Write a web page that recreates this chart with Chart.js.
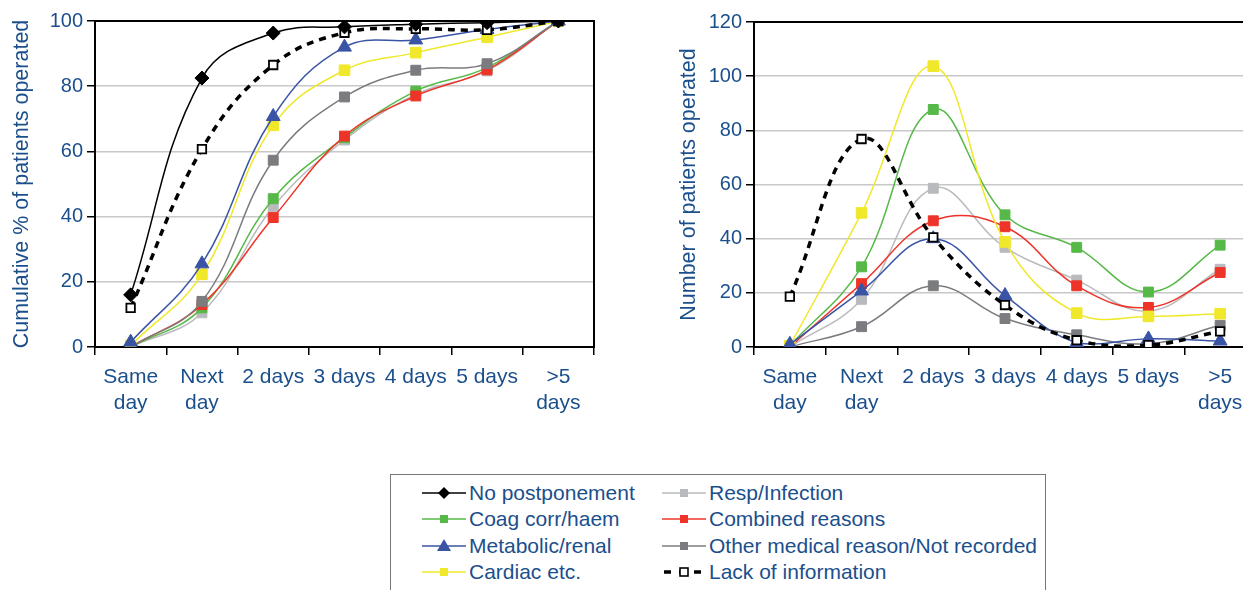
<!DOCTYPE html>
<html>
<head>
<meta charset="utf-8">
<script src="https://cdn.jsdelivr.net/npm/chart.js@4/dist/chart.umd.min.js"></script>
<style>
  body { margin: 0; width: 1243px; height: 590px; overflow: hidden; background: #fff; position: relative;
         font-family: "Liberation Sans", Arial, sans-serif; }
  #left { position: absolute; left: 0; top: 0; }
  #right { position: absolute; left: 662px; top: 0; }
  #legend { position: absolute; left: 390px; top: 474px; width: 656px; height: 130px;
            border: 1.5px solid #777; box-sizing: border-box; }
  .item { position: absolute; height: 26px; font-size: 21px; color: #1b4f8c; white-space: nowrap; }
  .item svg { position: absolute; left: 0; top: 0; }
  .item span { position: absolute; top: 1px; line-height: 24px; }
</style>
</head>
<body>
<canvas id="left" width="610" height="420"></canvas>
<canvas id="right" width="610" height="420"></canvas>
<div id="legend"></div>
<script>
const categories = [['Same', 'day'], ['Next', 'day'], '2 days', '3 days', '4 days', '5 days', ['>5', 'days']];

// cumulative % (left chart)
const noPostCum   = [16, 82.5, 96.3, 98.2, 99, 99.5, 100];
const coagCum     = [0, 12, 45.5, 64.2, 78.5, 85.7, 100];
const metabCum    = [1.5, 25.5, 70.7, 92, 94.2, 97.4, 100];
const cardiacCum  = [0.5, 22.3, 68, 84.9, 90.3, 95, 100];
const respCum     = [0, 10.5, 43, 63.5, 77.5, 84.7, 100];
const combinedCum = [0, 13, 39.7, 64.7, 77, 85, 100];
const otherCum    = [0, 14, 57.3, 76.7, 84.9, 86.9, 100];
const lackCum     = [12, 60.7, 86.5, 96.4, 97.6, 97.3, 100];

// number of patients (right chart)
const coagN     = [0.5, 29.6, 87.7, 48.8, 36.8, 20.3, 37.6];
const metabN    = [1, 20.7, 40, 19, 1.6, 3, 2.2];
const cardiacN  = [0.5, 49.5, 103.7, 38.8, 12.5, 11.3, 12.3];
const respN     = [0, 17.6, 58.6, 36.8, 24.7, 13.3, 28.7];
const combinedN = [0, 23.4, 46.6, 44.4, 22.6, 14.6, 27.5];
const otherN    = [0, 7.5, 22.6, 10.5, 4.5, 1.2, 8];
const lackN     = [18.6, 76.8, 40.5, 15.5, 2.5, 0.7, 5.8];

const leftTicks = { min: 0, max: 100, step: 20 };
const rightTicks = { min: 0, max: 120, step: 20 };

const textBlue = '#1b4f8c';
const fontFam = '"Liberation Sans", Arial, sans-serif';

const series = {
  noPost:   { label: 'No postponement', color: '#000000', style: 'rectRot', radius: 7 },
  coag:     { label: 'Coag corr/haem', color: '#56b947', style: 'rect', radius: 7 },
  metab:    { label: 'Metabolic/renal', color: '#3a54a5', style: 'triangle', radius: 8 },
  cardiac:  { label: 'Cardiac etc.', color: '#f0e82a', style: 'rect', radius: 7.5 },
  resp:     { label: 'Resp/Infection', color: '#b9babd', style: 'rect', radius: 7 },
  combined: { label: 'Combined reasons', color: '#ee3429', style: 'rect', radius: 7 },
  other:    { label: 'Other medical reason/Not recorded', color: '#7b7c7f', style: 'rect', radius: 7 },
  lack:     { label: 'Lack of information', color: '#000000', style: 'rect', radius: 6 }
};

function ds(key, data) {
  let s = series[key];
  let d = {
    label: s.label,
    data: data,
    borderColor: s.color,
    backgroundColor: s.color,
    pointBackgroundColor: s.color,
    pointBorderColor: s.color,
    pointStyle: s.style,
    pointRadius: s.radius,
    borderWidth: 1.5,
    pointBorderWidth: 1,
    tension: 0.4,
    fill: false
  };
  if (key == 'lack') {
    d.borderDash = [7, 6];
    d.borderWidth = 3.5;
    d.pointBackgroundColor = '#ffffff';
    d.pointBorderWidth = 1.8;
  }
  return d;
}

const boxPlugin = {
  id: 'box',
  beforeDatasetsDraw(chart) {
    let a = chart.chartArea;
    let ctx = chart.ctx;
    ctx.save();
    ctx.strokeStyle = '#000';
    ctx.lineWidth = 2;
    ctx.strokeRect(a.left, a.top, a.right - a.left, a.bottom - a.top);
    ctx.restore();
  }
};

function makeChart(id, datasets, yt, title, titlePad, yWidth, topPad) {
  return new Chart(document.getElementById(id), {
    type: 'line',
    data: { labels: categories, datasets: datasets },
    options: {
      responsive: false,
      animation: false,
      devicePixelRatio: 1,
      layout: { padding: { top: topPad, right: 16, left: 0, bottom: 0 } },
      plugins: { legend: { display: false }, tooltip: { enabled: false } },
      scales: {
        x: {
          offset: true,
          grid: { drawOnChartArea: false, color: '#000', lineWidth: 1.5, tickLength: 8, offset: true },
          border: { color: '#000', width: 2 },
          ticks: { color: textBlue, font: { family: fontFam, size: 21 }, padding: 10, maxRotation: 0, autoSkip: false },
          afterFit: function(s) { s.height = 73; }
        },
        y: {
          min: yt.min,
          max: yt.max,
          grid: { color: '#c8c8c8', lineWidth: 1.5, tickColor: '#000', tickLength: 8 },
          border: { color: '#000', width: 2 },
          ticks: { stepSize: yt.step, color: textBlue, font: { family: fontFam, size: 20 }, padding: 4 },
          title: { display: true, text: title, color: textBlue, font: { family: fontFam, size: 21.5 },
                   padding: { top: titlePad, bottom: 0 } },
          afterFit: function(s) { s.width = yWidth; }
        }
      }
    },
    plugins: [boxPlugin]
  });
}

makeChart('left', [
  ds('noPost', noPostCum),
  ds('lack', lackCum),
  ds('metab', metabCum),
  ds('cardiac', cardiacCum),
  ds('other', otherCum),
  ds('combined', combinedCum),
  ds('coag', coagCum),
  ds('resp', respCum)
], leftTicks, 'Cumulative % of patients operated', 9, 95, 21);

makeChart('right', [
  ds('lack', lackN),
  ds('metab', metabN),
  ds('cardiac', cardiacN),
  ds('other', otherN),
  ds('combined', combinedN),
  ds('coag', coagN),
  ds('resp', respN)
], rightTicks, 'Number of patients operated', 14, 92, 22);

// legend
const legendCols = [['noPost', 'coag', 'metab', 'cardiac'], ['resp', 'combined', 'other', 'lack']];
const legendColX = [421 - 390, 661 - 390];
const legendRowY = [492 - 474, 518 - 474, 545 - 474, 571 - 474];

function markerSvg(s, key) {
  let cx = 22, cy = 13, c = s.color;
  if (s.style == 'rectRot')
    return '<polygon points="' + (cx - 6) + ',' + cy + ' ' + cx + ',' + (cy - 6) + ' ' + (cx + 6) + ',' + cy + ' ' + cx + ',' + (cy + 6) + '" fill="' + c + '"/>';
  if (s.style == 'triangle')
    return '<polygon points="' + (cx - 7) + ',' + (cy + 5) + ' ' + (cx + 7) + ',' + (cy + 5) + ' ' + cx + ',' + (cy - 7) + '" fill="' + c + '"/>';
  if (key == 'lack')
    return '<rect x="' + (cx - 4) + '" y="' + (cy - 4) + '" width="8" height="8" fill="#fff" stroke="#000" stroke-width="1.6"/>';
  return '<rect x="' + (cx - 4) + '" y="' + (cy - 4) + '" width="8" height="8" fill="' + c + '"/>';
}

const legend = document.getElementById('legend');
for (let c = 0; c < legendCols.length; c++) {
  for (let r = 0; r < legendCols[c].length; r++) {
    let key = legendCols[c][r];
    let s = series[key];
    let div = document.createElement('div');
    div.className = 'item';
    div.style.left = legendColX[c] + 'px';
    div.style.top = (legendRowY[r] - 13) + 'px';
    let line = key == 'lack'
      ? '<line x1="0" y1="13" x2="44" y2="13" stroke="#000" stroke-width="3.5" stroke-dasharray="7,8" stroke-dashoffset="-2"/>'
      : '<line x1="0" y1="13" x2="44" y2="13" stroke="' + s.color + '" stroke-width="1.5"/>';
    div.innerHTML = '<svg width="46" height="26">' + line + markerSvg(s, key) + '</svg><span style="left:47px">' + s.label + '</span>';
    legend.appendChild(div);
  }
}
</script>
</body>
</html>
